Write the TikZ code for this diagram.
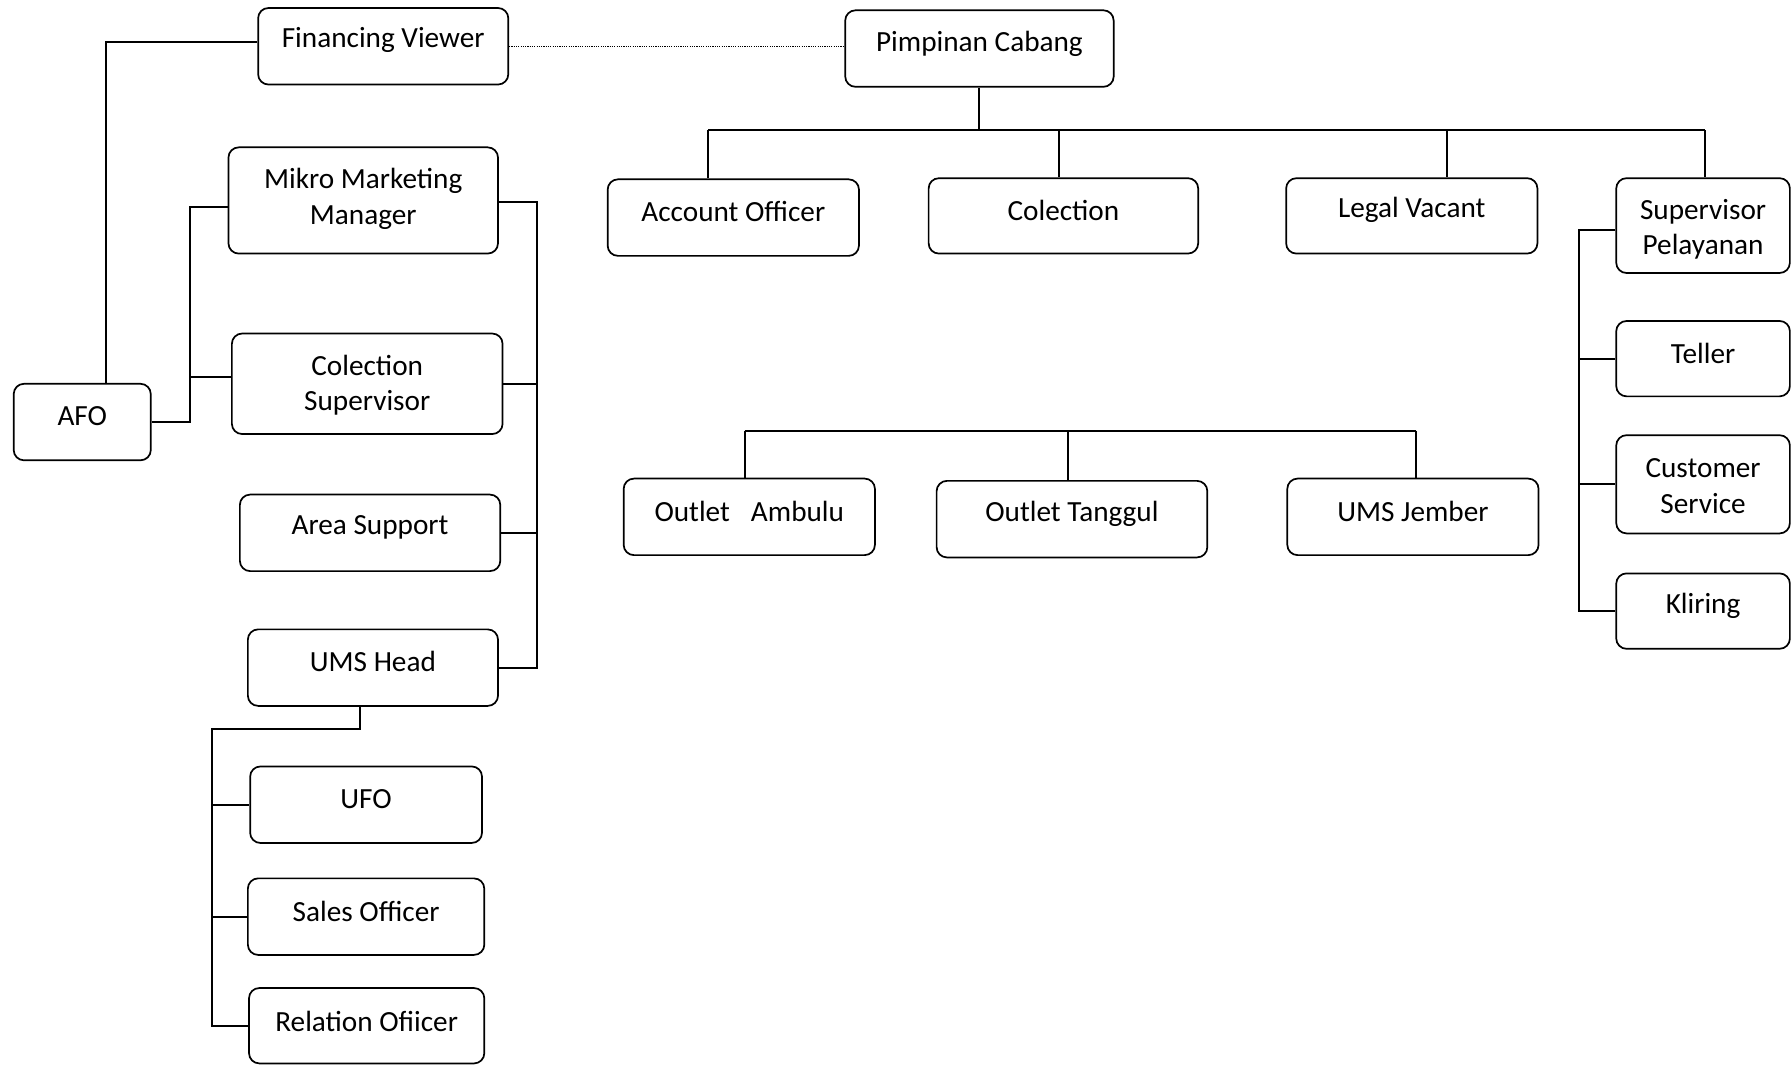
\documentclass[tikz,border=0pt]{standalone}
\usepackage{fontspec}
\setmainfont{Carlito}
\begin{document}
\begin{tikzpicture}[x=1pt,y=-1pt,
  bx/.style={draw, line width=1.5pt, rounded corners=9pt, inner sep=0pt},
  lbl/.style={font=\fontsize{25.6}{31}\selectfont, align=center, inner sep=0pt},
  conn/.style={line width=1.7pt},
  dotconn/.style={line width=1pt, dash pattern=on 1pt off 1pt}]
\useasboundingbox (0,0) rectangle (1568,932);

% boxes
\node[bx, minimum width=219, minimum height=67] (fv) at (335.5,40.5) {};
\node[lbl] (fvt) at (335.5,35) {Financing Viewer};
\node[bx, minimum width=235, minimum height=67] (pc) at (857.5,42.5) {};
\node[lbl] (pct) at (857.5,38) {Pimpinan Cabang};
\node[bx, minimum width=236, minimum height=93] (mmm) at (318,175.5) {};
\node[lbl] (mmmt) at (318,174) {Mikro Marketing\\Manager};
\node[bx, minimum width=237, minimum height=88] (cs) at (321.5,336) {};
\node[lbl] (cst) at (321.5,337) {Colection\\Supervisor};
\node[bx, minimum width=120, minimum height=67] (afo) at (72,369.5) {};
\node[lbl] (afot) at (72,364) {AFO};
\node[bx, minimum width=228, minimum height=67] (as) at (324,466.5) {};
\node[lbl] (ast) at (324,462) {Area Support};
\node[bx, minimum width=219, minimum height=67] (umsh) at (326.5,584.5) {};
\node[lbl] (umsht) at (326.5,579) {UMS Head};
\node[bx, minimum width=203, minimum height=67] (ufo) at (320.5,704.5) {};
\node[lbl] (ufot) at (320.5,700) {UFO};
\node[bx, minimum width=207, minimum height=67] (so) at (320.5,802.5) {};
\node[lbl] (sot) at (320.5,798) {Sales Officer};
\node[bx, minimum width=206, minimum height=66] (ro) at (321,898) {};
\node[lbl] (rot) at (321,894) {Relation Ofiicer};
\node[bx, minimum width=220, minimum height=67] (ao) at (642,190.5) {};
\node[lbl] (aot) at (642,185) {Account Officer};
\node[bx, minimum width=236, minimum height=66] (col) at (931,189) {};
\node[lbl] (colt) at (931,184) {Colection};
\node[bx, minimum width=220, minimum height=66] (lv) at (1236,189) {};
\node[lbl] (lvt) at (1236,184) {Legal Vacant};
\node[bx, minimum width=152, minimum height=83] (sp) at (1491,197.5) {};
\node[lbl] (spt) at (1491,200.5) {Supervisor\\Pelayanan};
\node[bx, minimum width=152, minimum height=66] (tel) at (1491,314) {};
\node[lbl] (telt) at (1491,309) {Teller};
\node[bx, minimum width=152, minimum height=86] (cus) at (1491,424) {};
\node[lbl] (cust) at (1491,425.5) {Customer\\Service};
\node[bx, minimum width=152, minimum height=66] (kl) at (1491,535) {};
\node[lbl] (klt) at (1491,530) {Kliring};
\node[bx, minimum width=220, minimum height=67] (oa) at (656,452.5) {};
\node[lbl] (oat) at (656,448) {Outlet\hspace{0.72em}Ambulu};
\node[bx, minimum width=237, minimum height=67] (ot) at (938.5,454.5) {};
\node[lbl] (ott) at (938.5,450) {Outlet Tanggul};
\node[bx, minimum width=220, minimum height=67] (umsj) at (1237,452.5) {};
\node[lbl] (umsjt) at (1237,448) {UMS Jember};

% junction coordinates
\coordinate (h1) at (93,37);
\coordinate (h2) at (166,181);
\coordinate (h3) at (166,330);
\coordinate (h4) at (470,177);
\coordinate (d1) at (620,114);
\coordinate (d2) at (927,114);
\coordinate (d3) at (1267,114);
\coordinate (d4) at (1493,114);
\coordinate (e1) at (652,377);
\coordinate (e2) at (935,377);
\coordinate (e3) at (1240,377);
\coordinate (f1) at (1382,201);
\coordinate (g1) at (315,638);
\coordinate (g2) at (186,638);

% AFO links
\draw[conn] (afo.north -| h1) -- (h1) -- (h1 -| fv.west);
\draw[conn] (afo.east) -| (h2) -- (h2 -| mmm.west);
\draw[conn] (h3) -- (h3 -| cs.west);
% right bus of left column
\draw[conn] (h4 -| mmm.east) -- (h4) -- (umsh.east -| h4) -- (umsh.east);
\draw[conn] (cs.east) -- (cs.east -| h4);
\draw[conn] (as.east) -- (as.east -| h4);
% dotted link
\draw[dotconn] (fv.east) -- (fv.east -| pc.west);
% Pimpinan tree
\draw[conn] (pc.south) -- (pc.south |- d1);
\draw[conn] (d1) -- (d4);
\draw[conn] (d1) -- (d1 |- ao.north);
\draw[conn] (d2) -- (d2 |- col.north);
\draw[conn] (d3) -- (d3 |- lv.north);
\draw[conn] (d4) -- (d4 |- sp.north);
% outlet tree
\draw[conn] (e1) -- (e3);
\draw[conn] (e1) -- (e1 |- oa.north);
\draw[conn] (e2) -- (e2 |- ot.north);
\draw[conn] (e3) -- (e3 |- umsj.north);
% supervisor pelayanan tree
\draw[conn] (f1 -| sp.west) -- (f1) -- (kl.west -| f1) -- (kl.west);
\draw[conn] (tel.west -| f1) -- (tel.west);
\draw[conn] (cus.west -| f1) -- (cus.west);
% UMS head tree
\draw[conn] (umsh.south -| g1) -- (g1) -- (g2) -- (ro.west -| g2) -- (ro.west);
\draw[conn] (ufo.west -| g2) -- (ufo.west);
\draw[conn] (so.west -| g2) -- (so.west);
\end{tikzpicture}
\end{document}
